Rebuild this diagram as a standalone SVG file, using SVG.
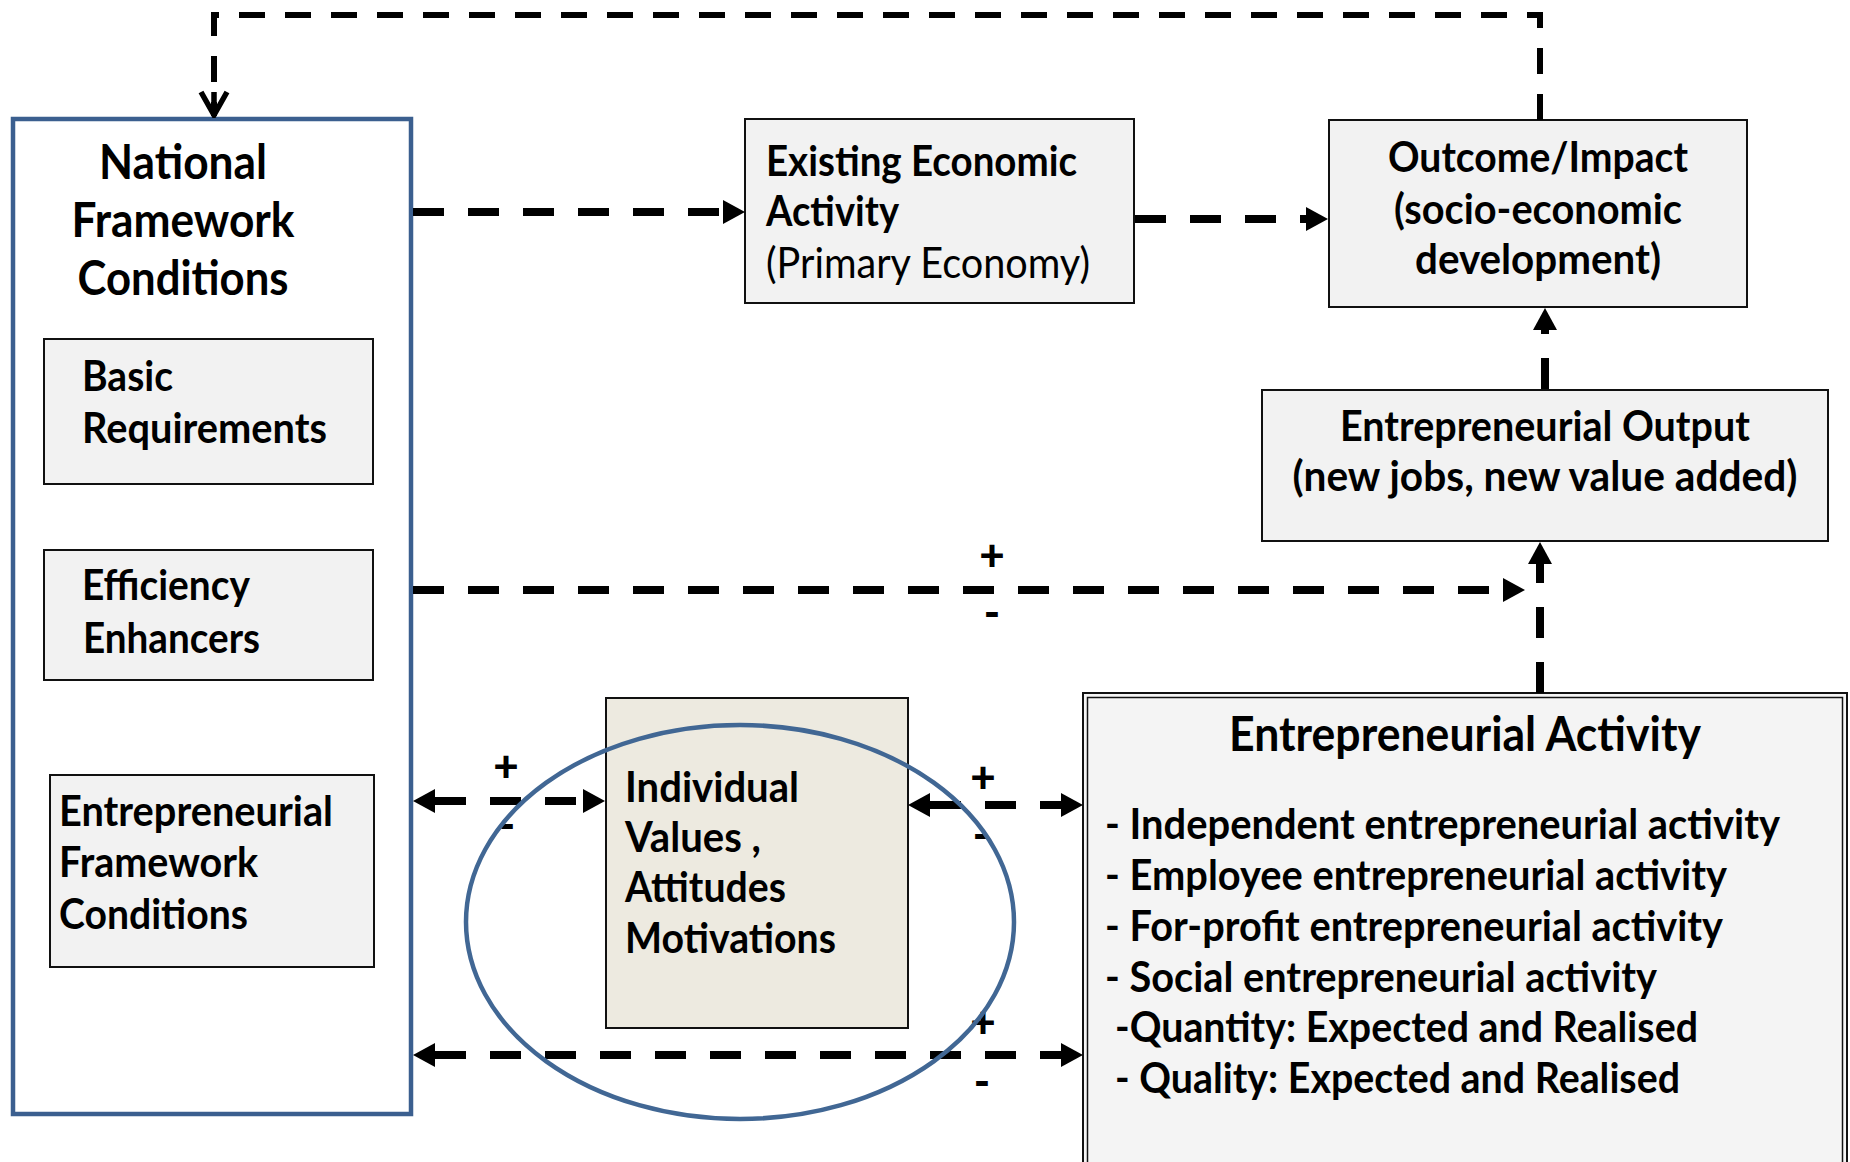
<svg xmlns="http://www.w3.org/2000/svg" width="1850" height="1162" viewBox="0 0 1850 1162">
<style>
.box{fill:#f2f2f2;stroke:#111;stroke-width:2}
.t{font-family:Lato,"Open Sans","Liberation Sans",sans-serif;font-weight:bold;font-size:42px;fill:#000}
.tr{font-family:Lato,"Open Sans","Liberation Sans",sans-serif;font-weight:normal;font-size:42px;fill:#000}
.big{font-size:47px}
.c{text-anchor:middle}
.sg{font-family:Lato,"Open Sans","Liberation Sans",sans-serif;font-weight:900;font-size:44px;fill:#000;text-anchor:middle}
.dash{fill:none;stroke:#000;stroke-width:8;stroke-dasharray:31 24}
.loop{fill:none;stroke:#000;stroke-width:6;stroke-dasharray:26 20}
</style>
<defs>
<marker id="ah" markerUnits="userSpaceOnUse" markerWidth="24" markerHeight="24" viewBox="0 0 22 24" refX="0" refY="12" orient="auto-start-reverse">
<path d="M0,0 L22,12 L0,24 z" fill="#000"/>
</marker>
<marker id="open" markerUnits="userSpaceOnUse" markerWidth="30" markerHeight="34" viewBox="-28 -17 30 34" refX="0" refY="0" orient="auto">
<path d="M-24,-13 L-1,0 L-24,13 M-24,0 H-1" fill="none" stroke="#000" stroke-width="5.5" stroke-linejoin="miter"/>
</marker>
</defs>
<rect width="1850" height="1162" fill="#fff"/>

<g id="national">
<rect x="13" y="119" width="398" height="995" fill="#fff" stroke="#3B5F8F" stroke-width="4.5"/>
<text class="t big c" x="183" y="179" textLength="168" lengthAdjust="spacingAndGlyphs">National</text>
<text class="t big c" x="183" y="237" textLength="223" lengthAdjust="spacingAndGlyphs">Framework</text>
<text class="t big c" x="183" y="295" textLength="211" lengthAdjust="spacingAndGlyphs">Conditions</text>
</g>
<g id="basic">
<rect class="box" x="44" y="339" width="329" height="145"/>
<text class="t" x="82" y="391" textLength="91" lengthAdjust="spacingAndGlyphs">Basic</text>
<text class="t" x="82" y="443" textLength="245" lengthAdjust="spacingAndGlyphs">Requirements</text>
</g>
<g id="efficiency">
<rect class="box" x="44" y="550" width="329" height="130"/>
<text class="t" x="82" y="600" textLength="168" lengthAdjust="spacingAndGlyphs">Efficiency</text>
<text class="t" x="83" y="653" textLength="177" lengthAdjust="spacingAndGlyphs">Enhancers</text>
</g>
<g id="efc">
<rect class="box" x="50" y="775" width="324" height="192"/>
<text class="t" x="59" y="826" textLength="274" lengthAdjust="spacingAndGlyphs">Entrepreneurial</text>
<text class="t" x="59" y="877" textLength="199" lengthAdjust="spacingAndGlyphs">Framework</text>
<text class="t" x="59" y="929" textLength="189" lengthAdjust="spacingAndGlyphs">Conditions</text>
</g>
<g id="existing">
<rect class="box" x="745" y="119" width="389" height="184"/>
<text class="t" x="766" y="176" textLength="311" lengthAdjust="spacingAndGlyphs">Existing Economic</text>
<text class="t" x="766" y="226" textLength="133" lengthAdjust="spacingAndGlyphs">Activity</text>
<text class="tr" x="766" y="278" textLength="324" lengthAdjust="spacingAndGlyphs">(Primary Economy)</text>
</g>
<g id="outcome">
<rect class="box" x="1329" y="120" width="418" height="187"/>
<text class="t c" x="1538" y="172" textLength="300" lengthAdjust="spacingAndGlyphs">Outcome/Impact</text>
<text class="t c" x="1538" y="224" textLength="288" lengthAdjust="spacingAndGlyphs">(socio-economic</text>
<text class="t c" x="1538" y="274" textLength="246" lengthAdjust="spacingAndGlyphs">development)</text>
</g>
<g id="output">
<rect class="box" x="1262" y="390" width="566" height="151"/>
<text class="t c" x="1545" y="441" textLength="410" lengthAdjust="spacingAndGlyphs">Entrepreneurial Output</text>
<text class="t c" x="1545" y="491" textLength="505" lengthAdjust="spacingAndGlyphs">(new jobs, new value added)</text>
</g>
<g id="individual">
<rect x="606" y="698" width="302" height="330" fill="#edeae0" stroke="#111" stroke-width="2"/>
<text class="t" x="625" y="802" textLength="174" lengthAdjust="spacingAndGlyphs">Individual</text>
<text class="t" x="625" y="852" textLength="136" lengthAdjust="spacingAndGlyphs">Values ,</text>
<text class="t" x="625" y="902" textLength="161" lengthAdjust="spacingAndGlyphs">Attitudes</text>
<text class="t" x="625" y="953" textLength="211" lengthAdjust="spacingAndGlyphs">Motivations</text>
</g>
<g id="activity">
<rect x="1083" y="693" width="764" height="480" fill="#f4f4f4" stroke="#111" stroke-width="2"/>
<rect x="1087.5" y="697.5" width="755" height="480" fill="none" stroke="#111" stroke-width="1.5"/>
<text class="t big c" x="1465" y="751" textLength="472" lengthAdjust="spacingAndGlyphs">Entrepreneurial Activity</text>
<text class="t" x="1105" y="839" textLength="675" lengthAdjust="spacingAndGlyphs">- Independent entrepreneurial activity</text>
<text class="t" x="1105" y="890" textLength="622" lengthAdjust="spacingAndGlyphs">- Employee entrepreneurial activity</text>
<text class="t" x="1105" y="941" textLength="618" lengthAdjust="spacingAndGlyphs">- For-profit entrepreneurial activity</text>
<text class="t" x="1105" y="992" textLength="552" lengthAdjust="spacingAndGlyphs">- Social entrepreneurial activity</text>
<text class="t" x="1115" y="1042" textLength="583" lengthAdjust="spacingAndGlyphs">-Quantity: Expected and Realised</text>
<text class="t" x="1115" y="1093" textLength="565" lengthAdjust="spacingAndGlyphs">- Quality: Expected and Realised</text>
</g>

<g id="connectors">
<path class="loop" d="M1540,120 V15 H214 V116" marker-end="url(#open)"/>
<path class="dash" d="M413,212 H723" marker-end="url(#ah)"/>
<path class="dash" d="M1135,219 H1306" marker-end="url(#ah)"/>
<path class="dash" d="M1545,389 V330" marker-end="url(#ah)"/>
<path class="dash" d="M1540,693 V564" marker-end="url(#ah)"/>
<path class="dash" d="M413,590 H1503" marker-end="url(#ah)"/>
<path class="dash" d="M435,801 H583" marker-start="url(#ah)" marker-end="url(#ah)"/>
<path class="dash" d="M930,805 H1061" marker-start="url(#ah)" marker-end="url(#ah)"/>
<path class="dash" d="M435,1055 H1061" marker-start="url(#ah)" marker-end="url(#ah)"/>
</g>

<g id="signs">
<text class="sg" x="992" y="571">+</text>
<text class="sg" x="992" y="628">-</text>
<text class="sg" x="506" y="782">+</text>
<text class="sg" x="507" y="840">-</text>
<text class="sg" x="983" y="793">+</text>
<text class="sg" x="981" y="850">-</text>
<text class="sg" x="983" y="1038">+</text>
<text class="sg" x="982" y="1097">-</text>
</g>

<g id="highlight">
<ellipse cx="740" cy="922" rx="274" ry="197" fill="none" stroke="#416794" stroke-width="4.5"/>
</g>
</svg>
